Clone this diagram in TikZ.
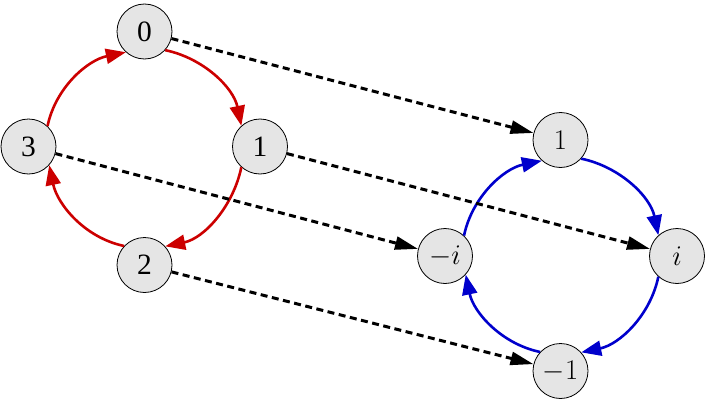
\RequirePackage{fix-cm}
\documentclass[tikz,border=0pt]{standalone}
\usepackage{fontspec}
\newfontfamily\timesf{Liberation Serif}
\usetikzlibrary{arrows.meta}
\definecolor{arcred}{RGB}{204,0,0}
\definecolor{arcblue}{RGB}{0,0,204}
\begin{document}
\begin{tikzpicture}[x=1pt,y=1pt,
  vnode/.style={circle,draw=black,line width=0.8pt,fill=black!10,minimum size=55pt,inner sep=0pt,font=\fontsize{28.5}{32}\selectfont},
  tnode/.style={vnode,font=\fontsize{29.5}{32}\selectfont\timesf},
  redarc/.style={draw=arcred,line width=2.6pt,-{Triangle[length=20pt,width=15pt]}},
  bluearc/.style={draw=arcblue,line width=2.6pt,-{Triangle[length=20pt,width=15pt]}},
  dasharrow/.style={draw=black,line width=3pt,dash pattern=on 7pt off 4.5pt,-{Triangle[length=23pt,width=13pt]}}]
\useasboundingbox (0,0) rectangle (706,400);
% left cycle
\node[tnode] (n0) at (144.5,368.5) {0};
\node[tnode] (n1) at (260,253.5) {1};
\node[tnode] (n2) at (144.5,135) {2};
\node[tnode] (n3) at (28.5,253.5) {3};
% right cycle
\node[vnode] (r1) at (560.5,260) {$1$};
\node[vnode] (ri) at (677,144) {$i$};
\node[vnode] (rm1) at (560.5,29) {$-1$};
\node[vnode] (rmi) at (445,144) {$-i$};
% red arcs
\draw[redarc] (n0.-42.5) to[out=-11.7,in=101.7,looseness=0.93] (n1.132.5);
\draw[redarc] (n1.-132.5) to[out=-101.7,in=11.7,looseness=0.93] (n2.42.5);
\draw[redarc] (n2.137.5) to[out=168.3,in=-78.3,looseness=0.93] (n3.-42.5);
\draw[redarc] (n3.47.5) to[out=78.3,in=191.7,looseness=0.93] (n0.-132.5);
% blue arcs
\draw[bluearc] (r1.-42.5) to[out=-11.7,in=101.7,looseness=0.93] (ri.132.5);
\draw[bluearc] (ri.-132.5) to[out=-101.7,in=11.7,looseness=0.93] (rm1.42.5);
\draw[bluearc] (rm1.137.5) to[out=168.3,in=-78.3,looseness=0.93] (rmi.-42.5);
\draw[bluearc] (rmi.47.5) to[out=78.3,in=191.7,looseness=0.93] (r1.-132.5);
% dashed maps
\draw[dasharrow] (n0) -- (r1);
\draw[dasharrow] (n1) -- (ri);
\draw[dasharrow] (n2) -- (rm1);
\draw[dasharrow] (n3) -- (rmi);
\end{tikzpicture}
\end{document}
